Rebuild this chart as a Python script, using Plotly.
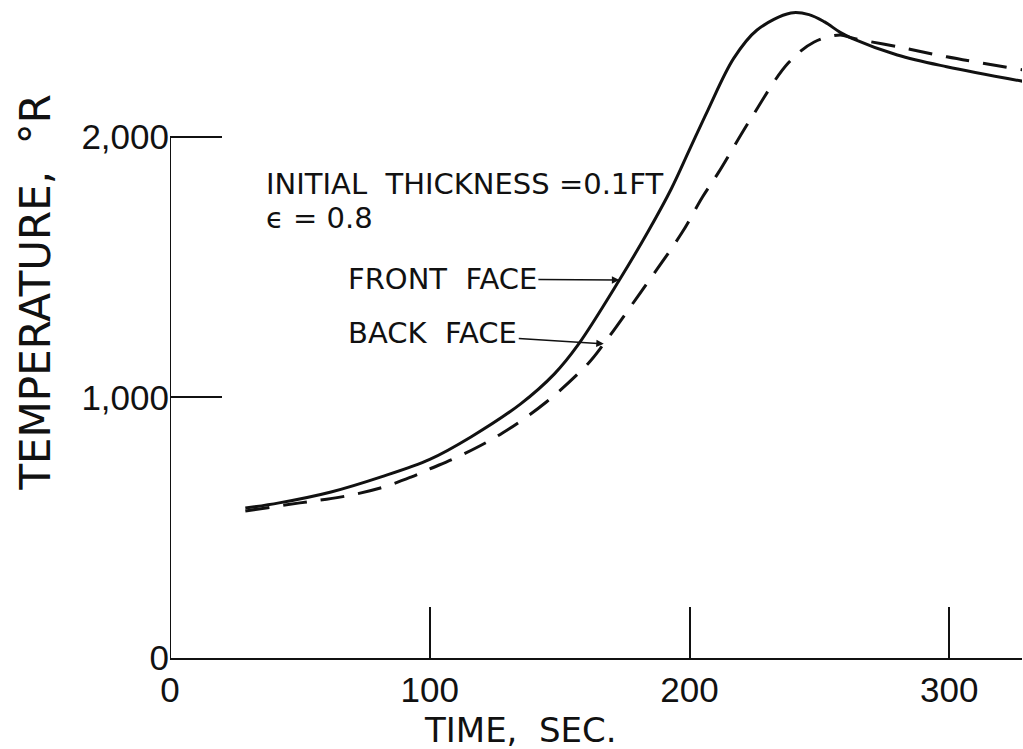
import plotly.graph_objects as go

# Data
front_t = [29, 42, 62, 81, 100, 116, 135, 148, 157, 173, 184, 193, 200, 207, 217, 226, 239, 246, 252, 258, 263, 280, 299, 329]
front_T = [575, 595, 637, 694, 762, 849, 975, 1090, 1200, 1450, 1635, 1800, 1950, 2100, 2300, 2409, 2474, 2468, 2440, 2400, 2375, 2313, 2268, 2211]
back_t = [29, 50, 66, 81, 93, 100, 113, 128, 145, 161, 167, 181, 197, 205, 211, 224, 238, 248, 258, 263, 280, 299, 329]
back_T = [564, 595, 618, 652, 695, 725, 782, 863, 983, 1130, 1205, 1400, 1630, 1768, 1860, 2075, 2282, 2363, 2390, 2377, 2345, 2306, 2255]

x_ticks = [0, 100, 200, 300]
x_labels = ["0", "100", "200", "300"]
y_ticks = [0, 1000, 2000]
y_labels = ["0", "1,000", "2,000"]

TICKFONT = "Liberation Sans"
FONT = "DejaVu Sans"
INK = "#111111"

fig = go.Figure()
fig.add_trace(go.Scatter(x=front_t, y=front_T, mode="lines", name="FRONT FACE",
                         line=dict(color=INK, width=3, shape="spline", smoothing=1.0)))
fig.add_trace(go.Scatter(x=back_t, y=back_T, mode="lines", name="BACK FACE",
                         line=dict(color=INK, width=3, dash="24px,14px", shape="spline", smoothing=1.0)))

# y axis line only up to 2,000
fig.add_shape(type="line", xref="x", yref="y", x0=0, x1=0, y0=0, y1=y_ticks[-1],
              line=dict(color=INK, width=2))

fig.update_layout(
    width=1023, height=749,
    margin=dict(l=170, r=1, t=0, b=91),
    plot_bgcolor="white", paper_bgcolor="white",
    showlegend=False,
    font=dict(family=FONT, color=INK),
    xaxis=dict(range=[0, 328], tickvals=x_ticks, ticktext=x_labels,
               ticks="inside", ticklen=51, tickwidth=2, tickcolor=INK,
               showline=True, linewidth=2, linecolor=INK, showgrid=False, zeroline=False,
               tickfont=dict(size=35, family=TICKFONT, color=INK)),
    yaxis=dict(range=[0, 2524], tickvals=y_ticks, ticktext=y_labels,
               ticks="inside", ticklen=52, tickwidth=2, tickcolor=INK,
               showline=False, showgrid=False, zeroline=False,
               tickfont=dict(size=35, family=TICKFONT, color=INK)),
)

# axis titles
fig.add_annotation(text="TIME,  SEC.", xref="paper", yref="paper", x=(520 - 170) / 852, y=-0.11,
                   showarrow=False, font=dict(size=34, family=FONT, color=INK), yanchor="middle")
fig.add_annotation(text="TEMPERATURE,  °R", xref="paper", yref="paper", x=-0.19, y=(658 - 292) / 658,
                   showarrow=False, textangle=-90, font=dict(size=42, family=FONT, color=INK))

# notes
fig.add_annotation(text="INITIAL  THICKNESS =0.1FT", xref="paper", yref="paper",
                   x=(264 - 170) / 852, y=(658 - 184) / 658, xanchor="left", yanchor="middle",
                   showarrow=False, font=dict(size=29, family=FONT, color=INK))
fig.add_annotation(text="ϵ = 0.8", xref="paper", yref="paper",
                   x=(264 - 170) / 852, y=(658 - 218) / 658, xanchor="left", yanchor="middle",
                   showarrow=False, font=dict(size=29, family=FONT, color=INK))

# curve labels with arrows
fig.add_annotation(text="FRONT  FACE", x=front_t[9], y=front_T[9], xref="x", yref="y",
                   ax=-177, ay=-1, showarrow=True, arrowhead=2, arrowsize=1, arrowwidth=1.5,
                   arrowcolor=INK, font=dict(size=29, family=FONT, color=INK))
fig.add_annotation(text="BACK  FACE", x=back_t[10], y=back_T[10], xref="x", yref="y",
                   ax=-171, ay=-11, showarrow=True, arrowhead=2, arrowsize=1, arrowwidth=1.5,
                   arrowcolor=INK, font=dict(size=29, family=FONT, color=INK))

fig.write_html("out.html")
